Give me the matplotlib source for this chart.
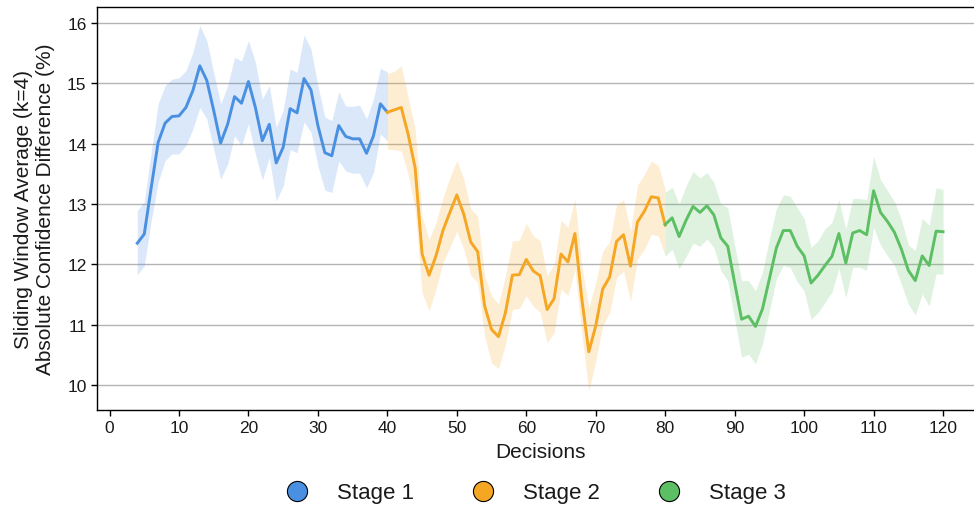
import numpy as np
import matplotlib
matplotlib.use("Agg")
import matplotlib.pyplot as plt
from matplotlib.lines import Line2D

plt.rcParams['font.family'] = ['Liberation Sans', 'DejaVu Sans']

# stage 1: decisions 4..40
s1_x = list(range(4, 41))
s1_mean = [12.35, 12.50, 13.27, 14.02, 14.34, 14.45, 14.46, 14.60, 14.88, 15.29,
           15.05, 14.55, 14.01, 14.32, 14.78, 14.67, 15.03, 14.60, 14.05, 14.32,
           13.68, 13.94, 14.58, 14.51, 15.08, 14.89, 14.30, 13.85, 13.80, 14.30,
           14.12, 14.08, 14.08, 13.84, 14.13, 14.66, 14.52]
s1_hi = [12.89, 13.04, 13.85, 14.66, 14.96, 15.07, 15.09, 15.21, 15.51, 15.96,
         15.71, 15.18, 14.66, 14.96, 15.43, 15.37, 15.71, 15.35, 14.74, 14.96,
         14.27, 14.55, 15.24, 15.18, 15.80, 15.57, 14.96, 14.44, 14.38, 14.86,
         14.62, 14.62, 14.64, 14.41, 14.74, 15.25, 15.19]
s1_lo = [11.83, 11.97, 12.72, 13.36, 13.72, 13.83, 13.83, 13.97, 14.24, 14.60,
         14.41, 13.91, 13.41, 13.66, 14.13, 13.97, 14.33, 13.83, 13.40, 13.77,
         13.05, 13.30, 13.90, 13.85, 14.36, 14.19, 13.63, 13.23, 13.19, 13.71,
         13.55, 13.51, 13.51, 13.27, 13.52, 14.16, 14.05]

# stage 2: decisions 40..80
s2_x = list(range(40, 81))
s2_mean = [14.52, 14.56, 14.60, 14.15, 13.60, 12.17, 11.82, 12.14, 12.56, 12.86,
           13.15, 12.83, 12.37, 12.21, 11.31, 10.92, 10.80, 11.20, 11.82, 11.83,
           12.08, 11.89, 11.81, 11.25, 11.43, 12.17, 12.04, 12.51, 11.42, 10.55,
           10.98, 11.59, 11.79, 12.38, 12.49, 11.97, 12.70, 12.88, 13.12, 13.10,
           12.65]
s2_hi = [15.16, 15.20, 15.29, 14.76, 14.24, 12.80, 12.41, 12.69, 13.10, 13.44,
         13.72, 13.41, 12.92, 12.80, 11.81, 11.48, 11.34, 11.81, 12.39, 12.40,
         12.68, 12.47, 12.39, 11.81, 12.00, 12.73, 12.61, 13.09, 11.97, 11.28,
         11.70, 12.22, 12.37, 12.99, 13.07, 12.55, 13.31, 13.49, 13.71, 13.64,
         13.24]
s2_lo = [13.91, 13.90, 13.88, 13.49, 12.91, 11.53, 11.23, 11.59, 12.03, 12.28,
         12.55, 12.25, 11.82, 11.70, 10.81, 10.37, 10.27, 10.67, 11.25, 11.27,
         11.48, 11.31, 11.20, 10.70, 10.87, 11.59, 11.48, 11.92, 10.84, 9.90,
         10.40, 10.98, 11.20, 11.78, 11.89, 11.39, 12.08, 12.25, 12.50, 12.47,
         12.14]

# stage 3: decisions 80..120
s3_x = list(range(80, 121))
s3_mean = [12.66, 12.77, 12.46, 12.73, 12.96, 12.86, 12.97, 12.82, 12.44, 12.30,
           11.69, 11.09, 11.14, 10.97, 11.26, 11.76, 12.27, 12.56, 12.56, 12.30,
           12.14, 11.69, 11.82, 11.98, 12.13, 12.51, 12.02, 12.52, 12.56, 12.49,
           13.22, 12.86, 12.71, 12.53, 12.25, 11.90, 11.73, 12.14, 11.98, 12.55,
           12.54]
s3_hi = [13.19, 13.28, 13.00, 13.30, 13.54, 13.43, 13.52, 13.36, 13.00, 12.94,
         12.31, 11.73, 11.73, 11.56, 11.87, 12.42, 12.92, 13.15, 13.13, 12.94,
         12.76, 12.28, 12.39, 12.59, 12.69, 13.07, 12.59, 13.09, 13.09, 13.07,
         13.79, 13.40, 13.22, 13.04, 12.74, 12.32, 12.23, 12.76, 12.65, 13.27,
         13.24]
s3_lo = [12.14, 12.25, 11.92, 12.13, 12.35, 12.30, 12.42, 12.28, 11.90, 11.73,
         11.09, 10.46, 10.51, 10.35, 10.68, 11.23, 11.76, 11.98, 11.95, 11.71,
         11.56, 11.09, 11.20, 11.37, 11.54, 11.93, 11.45, 11.95, 11.95, 11.90,
         12.61, 12.32, 12.14, 11.98, 11.67, 11.34, 11.16, 11.51, 11.31, 11.84,
         11.84]

labels = ["Stage 1", "Stage 2", "Stage 3"]
colors = ["#4A90E2", "#F5A623", "#5CBF63"]

fig = plt.figure(figsize=(9.74, 5.10), dpi=100)
# right edge of the axes box falls just past the canvas, like the reference
ax = fig.add_axes([0.0996, 0.1947, 0.910, 0.789])

stages = [(s1_x, s1_mean, s1_lo, s1_hi),
          (s2_x, s2_mean, s2_lo, s2_hi),
          (s3_x, s3_mean, s3_lo, s3_hi)]
for (xs, m, lo, hi), c in zip(stages, colors):
    ax.fill_between(xs, lo, hi, color=c, alpha=0.2, linewidth=0)
    ax.plot(xs, m, color=c, linewidth=2.1)

ax.set_xlim(-1.8, 125.8)
ax.set_ylim(9.59, 16.26)
ax.set_xticks(range(0, 121, 10))
ax.set_yticks(range(10, 17))
ax.yaxis.grid(True, color="#b4b4b4", linewidth=1)
ax.set_axisbelow(True)
for s in ax.spines.values():
    s.set_color("black")
    s.set_linewidth(1.0)
ax.tick_params(axis="both", labelsize=12.5, direction="out", length=4, width=1,
               labelcolor="#1a1a1a")
ax.set_xlabel("Decisions", fontsize=15, color="#1a1a1a", labelpad=5)
ax.set_ylabel("Sliding Window Average (k=4)\nAbsolute Confidence Difference (%)",
              fontsize=15, color="#1a1a1a", labelpad=9)

handles = [Line2D([], [], marker="o", linestyle="none", markersize=14.5,
                  markerfacecolor=c, markeredgecolor="black", markeredgewidth=0.8)
           for c in colors]
leg = ax.legend(handles, labels, loc="center", bbox_to_anchor=(0.489, -0.2065),
                ncol=3, frameon=False, fontsize=16, columnspacing=2.1,
                handletextpad=0.8)
for t in leg.get_texts():
    t.set_color("#1a1a1a")

fig.savefig("out.png", dpi=100)
